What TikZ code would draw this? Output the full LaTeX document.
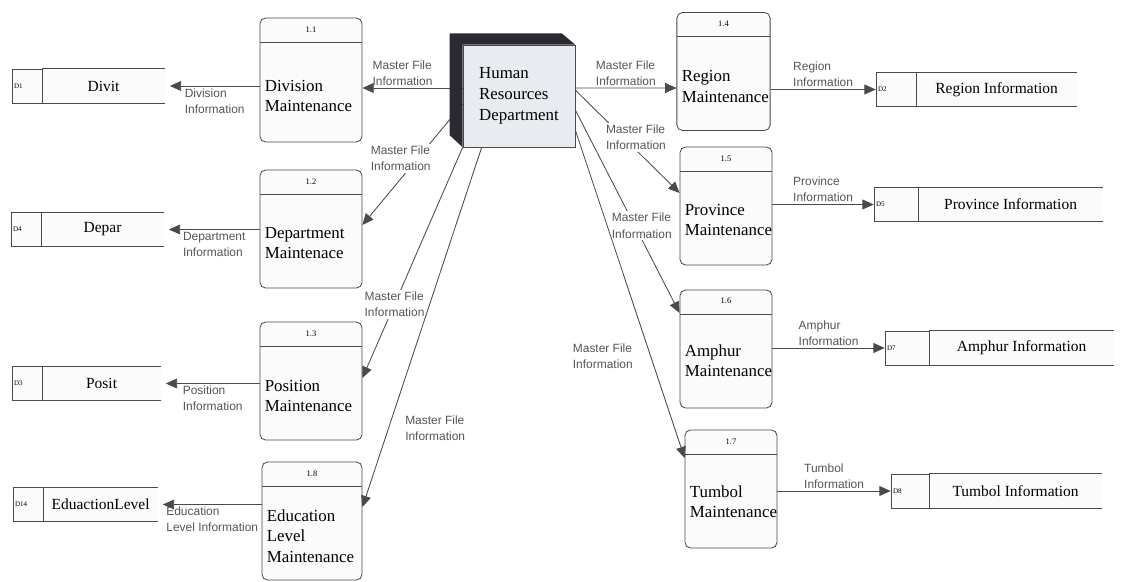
\documentclass[tikz,border=0pt]{standalone}
\usepackage{fontspec}
\setmainfont{Liberation Serif}
\setsansfont{Liberation Sans}
\usetikzlibrary{arrows.meta, positioning, calc}
\definecolor{lineclr}{HTML}{4A4A4A}
\definecolor{faceclr}{HTML}{E8EBF0}
\definecolor{sideclr}{HTML}{2A2A32}
\definecolor{lblclr}{HTML}{555555}
\tikzstyle{process} = [rectangle, rounded corners=4pt, draw=lineclr, fill=gray!3, line width=0.6pt, minimum width=2.55cm, minimum height=2.95cm, path picture={\draw[lineclr, line width=0.6pt] ([yshift=-0.6cm]path picture bounding box.north west) -- ([yshift=-0.6cm]path picture bounding box.north east);}]
\tikzstyle{ptext} = [align=left, anchor=west, inner sep=0pt, font=\fontsize{12}{14.5}\selectfont]
\tikzstyle{hdr} = [inner sep=0pt, font=\fontsize{6}{7}\selectfont]
\tikzstyle{hrbox} = [rectangle, draw=lineclr, fill=faceclr, minimum width=2.8cm, minimum height=2.55cm, align=left, font=\fontsize{12}{15}\selectfont]
\tikzstyle{storeid} = [rectangle, draw=lineclr, fill=gray!3, minimum width=0.75cm, minimum height=0.85cm, inner xsep=1.5pt, text width=0.75cm-3pt, align=left, font=\fontsize{5}{6}\selectfont]
\tikzstyle{storename} = [rectangle, minimum width=3.05cm, minimum height=0.85cm, fill=gray!3, font=\fontsize{11}{13}\selectfont]
\tikzstyle{storeline} = [draw=lineclr, line width=0.6pt]
\tikzstyle{flowlbl} = [align=left, inner sep=1.5pt, text=lblclr, font=\sffamily\fontsize{8.5}{11.5}\selectfont]
\tikzstyle{arrow} = [draw=lineclr, line width=0.6pt, -{Triangle[length=8pt, width=7pt]}]

\begin{document}
\begin{tikzpicture}[x=0.025cm, y=-0.025cm]
\fill[white] (0,0) rectangle (1130,582);
\useasboundingbox (0,0) rectangle (1130,582);

% Centre: external entity
\node (hrd) [hrbox] at (519,96) {Human\\Resources\\Department};

% Left processes
\node (divm) [process, minimum height=3.1cm] at (311,80) {};
\node (divn) [hdr] at ($(divm.north)+(0,12)$) {1.1};
\node (divt) [ptext] at ($(divm.west)+(5,16)$) {Division\\Maintenance};
\node (depm) [process] at (311,229) {};
\node (depn) [hdr] at ($(depm.north)+(0,12)$) {1.2};
\node (dept) [ptext] at ($(depm.west)+(5,14)$) {Department\\Maintenace};
\node (posm) [process] at (311,381) {};
\node (posn) [hdr] at ($(posm.north)+(0,12)$) {1.3};
\node (post) [ptext] at ($(posm.west)+(5,15)$) {Position\\Maintenance};
\node (edum) [process, minimum width=2.5cm] at (312,521) {};
\node (edun) [hdr] at ($(edum.north)+(0,12)$) {1.8};
\node (edut) [ptext] at ($(edum.west)+(5,15)$) {Education\\Level\\Maintenance};

% Right processes
\node (regm) [process, minimum width=2.33cm] at (723.5,71.5) {};
\node (regn) [hdr] at ($(regm.north)+(0,12)$) {1.4};
\node (regt) [ptext] at ($(regm.west)+(5,15)$) {Region\\Maintenance};
\node (prvm) [process, minimum width=2.3cm] at (726,206) {};
\node (prvn) [hdr] at ($(prvm.north)+(0,12)$) {1.5};
\node (prvt) [ptext] at ($(prvm.west)+(5,14)$) {Province\\Maintenance};
\node (ampm) [process, minimum width=2.3cm] at (726,349) {};
\node (ampn) [hdr] at ($(ampm.north)+(0,11)$) {1.6};
\node (ampt) [ptext] at ($(ampm.west)+(5,12)$) {Amphur\\Maintenance};
\node (tmbm) [process, minimum width=2.3cm] at (731,489) {};
\node (tmbn) [hdr] at ($(tmbm.north)+(0,12)$) {1.7};
\node (tmbt) [ptext] at ($(tmbm.west)+(5,13)$) {Tumbol\\Maintenance};

% Data stores, left
\node (divd) [storeid] at (27,86) {D1};
\node (divs) [storename, right=0pt of divd] {Divit};
\node (depd) [storeid] at (26,229.5) {D4};
\node (deps) [storename, right=0pt of depd] {Depar};
\node (posd) [storeid] at (27,383.5) {D3};
\node (poss) [storename, minimum width=2.95cm, right=0pt of posd] {Posit};
\node (edud) [storeid] at (28,504.5) {D14};
\node (edus) [storename, minimum width=2.85cm, right=0pt of edud] {EduactionLevel};

% Data stores, right
\node (regd) [storeid, minimum width=1cm, text width=1cm-3pt] at (896,89.5) {D2};
\node (regs) [storename, minimum width=4cm, right=0pt of regd] {Region Information};
\node (prvd) [storeid, minimum width=1.1cm, text width=1.1cm-3pt] at (896,204.5) {D5};
\node (prvs) [storename, minimum width=4.6cm, right=0pt of prvd] {Province Information};
\node (ampd) [storeid, minimum width=1.1cm, text width=1.1cm-3pt] at (907,348) {D7};
\node (amps) [storename, minimum width=4.6cm, right=0pt of ampd] {Amphur Information};
\node (tmbd) [storeid, minimum width=0.95cm, text width=0.95cm-3pt] at (910,491) {D8};
\node (tmbs) [storename, minimum width=4.3cm, right=0pt of tmbd] {Tumbol Information};

\draw [storeline] (divs.north west) -- (divs.north east) (divs.south west) -- (divs.south east);
\draw [storeline] (deps.north west) -- (deps.north east) (deps.south west) -- (deps.south east);
\draw [storeline] (poss.north west) -- (poss.north east) (poss.south west) -- (poss.south east);
\draw [storeline] (edus.north west) -- (edus.north east) (edus.south west) -- (edus.south east);
\draw [storeline] (regs.north west) -- (regs.north east) (regs.south west) -- (regs.south east);
\draw [storeline] (prvs.north west) -- (prvs.north east) (prvs.south west) -- (prvs.south east);
\draw [storeline] (amps.north west) -- (amps.north east) (amps.south west) -- (amps.south east);
\draw [storeline] (tmbs.north west) -- (tmbs.north east) (tmbs.south west) -- (tmbs.south east);

% Master file flows
\draw [arrow] ($(hrd.west)+(0,-8)$) -- node[flowlbl, above, pos=0.6]{Master File\\Information} ($(divm.east)+(0,8)$);
\draw [arrow] ($(hrd.west)+(0,8)$) -- node[flowlbl, fill=white, pos=0.45, xshift=-12pt]{Master File\\Information} ($(depm.east)+(0,-4)$);
\draw [arrow] (hrd.south west) -- node[flowlbl, fill=white, pos=0.68]{Master File\\Information} ($(posm.east)+(0,-3)$);
\draw [arrow] ($(hrd.south west)+(19,0)$) -- node[flowlbl, pos=0.78, right=10pt]{Master File\\Information} ($(edum.east)+(0,-14)$);
\draw [arrow] ($(hrd.east)+(0,-8)$) -- node[flowlbl, above]{Master File\\Information} ($(regm.west)+(0,16.5)$);
\draw [arrow] ($(hrd.east)+(0,-6)$) -- node[flowlbl, fill=white, pos=0.46, xshift=9pt]{Master File\\Information} ($(prvm.west)+(0,-13)$);
\draw [arrow] ($(hrd.east)+(0,14)$) -- node[flowlbl, fill=white, pos=0.57, xshift=5pt]{Master File\\Information} ($(ampm.west)+(0,-36)$);
\draw [arrow] ($(hrd.east)+(0,34)$) -- node[flowlbl, pos=0.69, left=11pt]{Master File\\Information} ($(tmbm.west)+(0,-31)$);

% 3D faces of the entity
\fill [sideclr] (hrd.south west) -- ++(-13,-12) -- ++(0,-102) -- ++(112,0) -- (hrd.north east) -- (hrd.north west) -- cycle;

% Flows to data stores
\draw [arrow] (divm.west |- divs.east) -- node[flowlbl, below]{Division\\Information} ($(divs.east)+(5,0)$);
\draw [arrow] (depm.west |- deps.east) -- node[flowlbl, below]{Department\\Information} ($(deps.east)+(5,0)$);
\draw [arrow] (posm.west |- poss.east) -- node[flowlbl, below]{Position\\Information} ($(poss.east)+(5,0)$);
\draw [arrow] (edum.west |- edus.east) -- node[flowlbl, below]{Education\\Level Information} ($(edus.east)+(5,0)$);
\draw [arrow] (regm.east |- regd.west) -- node[flowlbl, above]{Region\\Information} (regd.west);
\draw [arrow] (prvm.east |- prvd.west) -- node[flowlbl, above]{Province\\Information} (prvd.west);
\draw [arrow] (ampm.east |- ampd.west) -- node[flowlbl, above]{Amphur\\Information} (ampd.west);
\draw [arrow] (tmbm.east |- tmbd.west) -- node[flowlbl, above]{Tumbol\\Information} (tmbd.west);

\end{tikzpicture}
\end{document}
